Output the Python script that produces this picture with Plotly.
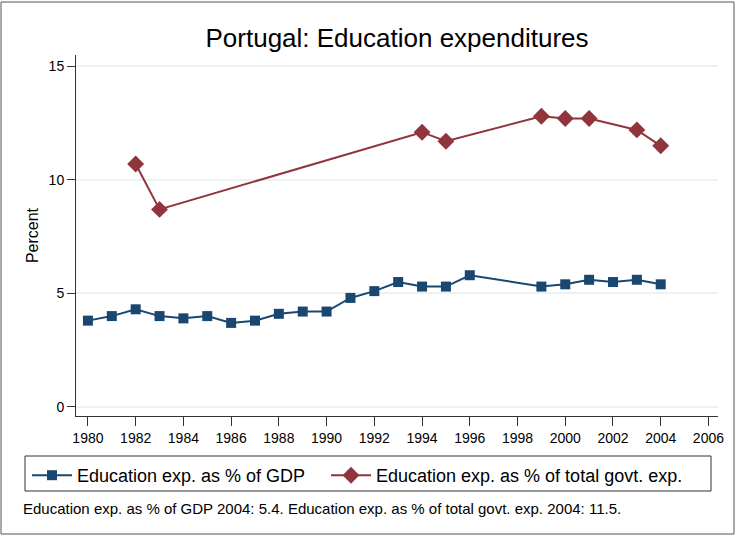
import plotly.graph_objects as go

years_gdp = [1980, 1981, 1982, 1983, 1984, 1985, 1986, 1987, 1988, 1989, 1990,
             1991, 1992, 1993, 1994, 1995, 1996, 1999, 2000, 2001, 2002, 2003, 2004]
gdp = [3.8, 4.0, 4.3, 4.0, 3.9, 4.0, 3.7, 3.8, 4.1, 4.2, 4.2,
       4.8, 5.1, 5.5, 5.3, 5.3, 5.8, 5.3, 5.4, 5.6, 5.5, 5.6, 5.4]

years_gov = [1982, 1983, 1994, 1995, 1999, 2000, 2001, 2003, 2004]
gov = [10.7, 8.7, 12.1, 11.7, 12.8, 12.7, 12.7, 12.2, 11.5]

x_ticks = list(range(1980, 2007, 2))
y_ticks = [0, 5, 10, 15]

navy = "#1a476f"
maroon = "#90353b"
FONT = "Liberation Sans, Arial, sans-serif"

W, H = 736, 536
L, R, T, B = 76, 18, 55, 120
PW, PH = W - L - R, H - T - B

def px(xp):
    return (xp - L) / PW

def py(yp):
    return (H - B - yp) / PH

fig = go.Figure()
fig.add_trace(go.Scatter(
    x=years_gdp, y=gdp, mode="lines+markers", name="Education exp. as % of GDP",
    line=dict(color=navy, width=2),
    marker=dict(symbol="square", size=10, color=navy),
    legend="legend",
))
fig.add_trace(go.Scatter(
    x=years_gov, y=gov, mode="lines+markers", name="Education exp. as % of total govt. exp.",
    line=dict(color=maroon, width=2),
    marker=dict(symbol="diamond", size=13, color=maroon),
    legend="legend2",
))

leg_common = dict(orientation="h", xanchor="left", yanchor="top",
                  font=dict(size=18, family=FONT), borderwidth=0,
                  bgcolor="rgba(0,0,0,0)", itemwidth=40)

fig.update_layout(
    width=W, height=H,
    margin=dict(l=L, r=R, t=T, b=B),
    paper_bgcolor="white", plot_bgcolor="white",
    font=dict(family=FONT, color="#000000"),
    title=dict(text="Portugal: Education expenditures", x=0.5, xref="paper",
               y=1 - 38 / H, yref="container", yanchor="middle", xanchor="center",
               font=dict(size=26, family=FONT, color="#000000")),
    showlegend=True,
    legend=dict(x=px(27), y=py(457), **leg_common),
    legend2=dict(x=px(326), y=py(457), **leg_common),
    xaxis=dict(range=[1979.5, 2006.4], tickmode="array", tickvals=x_ticks,
               ticks="outside", ticklen=9, tickcolor="#333333", tickwidth=1,
               showline=True, linecolor="#333333", linewidth=1,
               showgrid=False, zeroline=False, tickfont=dict(size=14, family=FONT)),
    yaxis=dict(range=[-0.4, 15.5], tickmode="array", tickvals=y_ticks,
               ticks="outside", ticklen=8, tickcolor="#333333", tickwidth=1,
               showline=True, linecolor="#333333", linewidth=1,
               showgrid=True, gridcolor="#eaf2f3", gridwidth=1.5, zeroline=False,
               tickfont=dict(size=14, family=FONT),
               title=dict(text="Percent", font=dict(size=16, family=FONT), standoff=6)),
    shapes=[
        dict(type="rect", xref="paper", yref="paper",
             x0=px(25), x1=px(711), y0=py(491), y1=py(456),
             line=dict(color="#333333", width=1), fillcolor="rgba(0,0,0,0)", layer="above"),
        dict(type="rect", xref="paper", yref="paper",
             x0=px(1), x1=px(734), y0=py(534), y1=py(2),
             line=dict(color="#555555", width=1), fillcolor="rgba(0,0,0,0)", layer="above"),
    ],
    annotations=[
        dict(text="Education exp. as % of GDP 2004: 5.4. Education exp. as % of total govt. exp. 2004: 11.5.",
             xref="paper", yref="paper", x=px(21), y=py(508), xanchor="left", yanchor="middle",
             showarrow=False, font=dict(size=15, family=FONT, color="#000000")),
    ],
)

fig.write_html("out.html", config={"displayModeBar": False},
               post_script="document.body.style.margin='0';document.body.style.overflow='hidden';")
